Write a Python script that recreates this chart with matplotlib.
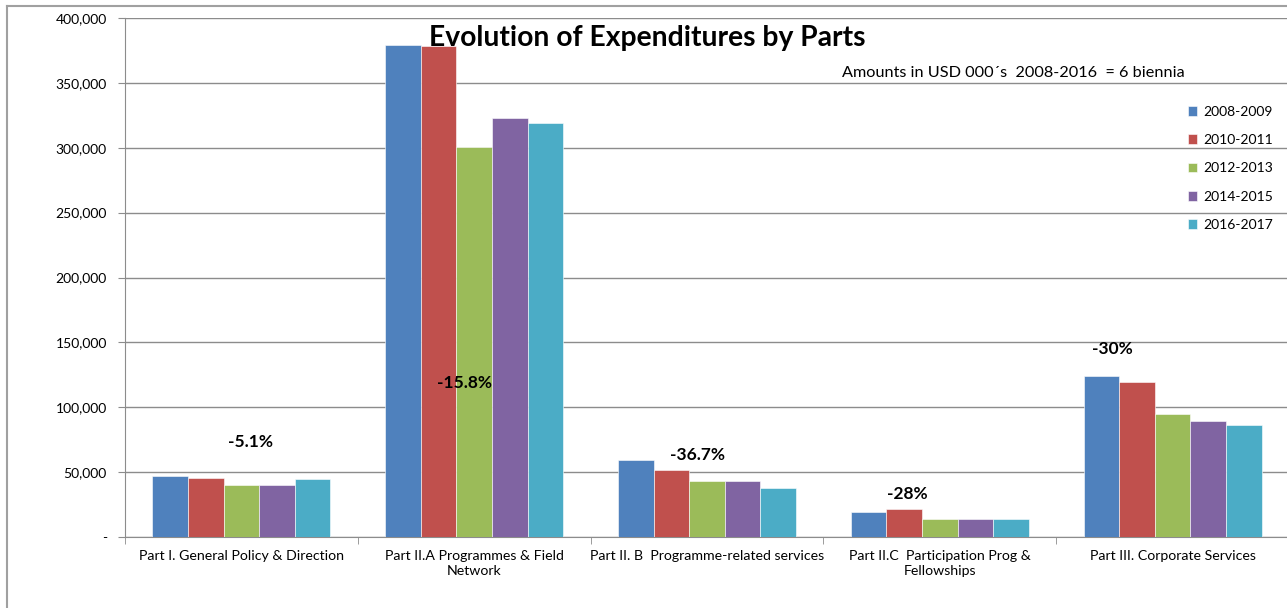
import numpy as np
import matplotlib.pyplot as plt
from matplotlib.lines import Line2D
from matplotlib.ticker import FuncFormatter

# dados (USD 000)
partes = ["Part I. General Policy & Direction",
          "Part II.A Programmes & Field\nNetwork",
          "Part II. B  Programme-related services",
          "Part II.C  Participation Prog &\nFellowships",
          "Part III. Corporate Services"]
bienios = ["2008-2009", "2010-2011", "2012-2013", "2014-2015", "2016-2017"]

b2008 = [46700, 379200, 59500, 19500, 123800]
b2010 = [45600, 378400, 51300, 21300, 119200]
b2012 = [40200, 300500, 43100, 14200, 94900]
b2014 = [40200, 322800, 43100, 14200, 89200]
b2016 = [44800, 319200, 37700, 14200, 86700]
valores = [b2008, b2010, b2012, b2014, b2016]

variacao = ["-5.1%", "-15.8%", "-36.7%", "-28%", "-30%"]
var_y = [73000, 119000, 63000, 33000, 145000]
var_dx = [0.04, -0.04, -0.04, -0.14, -0.26]

cores = ["#4F81BD", "#C0504D", "#9BBB59", "#8064A2", "#4BACC6"]
cinza = "#8c8c8c"

plt.rcParams['font.family'] = ['Lato', 'DejaVu Sans']

fig = plt.figure(figsize=(12.87, 6.08), dpi=100)
ax = fig.add_axes([125/1287, 1-537/608, 1164/1287, 519/608])

x = np.arange(len(partes))
larg = 0.153
for i, serie in enumerate(valores):
    ax.bar(x + (i-2)*larg, serie, larg, color=cores[i], label=bienios[i],
           edgecolor="white", linewidth=0.4, zorder=3)

for i, txt in enumerate(variacao):
    ax.text(x[i] + var_dx[i], var_y[i], txt, ha="center", va="center",
            fontsize=12.5, fontweight="bold", zorder=4)

ax.set_xlim(-0.5, 4.5)
ax.set_ylim(0, 400000)
ax.set_yticks(np.arange(0, 400001, 50000))
ax.yaxis.set_major_formatter(FuncFormatter(lambda v, p: "-" if v == 0 else f"{int(v):,}"))
ax.set_xticks(x)
ax.set_xticklabels(partes, fontsize=10.2, linespacing=1.35)
ax.set_xticks(np.arange(-0.5, 4.6, 1), minor=True)
ax.tick_params(axis="x", which="major", length=0, pad=9)
ax.tick_params(axis="x", which="minor", length=5, color=cinza)
ax.tick_params(axis="y", length=5, color=cinza, labelsize=10, pad=8)
ax.grid(axis="y", color=cinza, linewidth=1, zorder=0)
for s in ["top", "right"]:
    ax.spines[s].set_visible(False)
for s in ["left", "bottom"]:
    ax.spines[s].set_color(cinza)

fig.text(647/1287, 1-38/608, "Evolution of Expenditures by Parts",
         ha="center", va="center", fontsize=20.3, fontweight="bold")
fig.text(842/1287, 1-73/608, "Amounts in USD 000\u00b4s  2008-2016  = 6 biennia",
         ha="left", va="center", fontsize=11.7)

ax.legend(loc="upper left", bbox_to_anchor=(1182/1287, 1-100/608),
          bbox_transform=fig.transFigure, frameon=False, fontsize=10,
          handlelength=0.7, handleheight=0.7, handletextpad=0.4,
          labelspacing=1.18, borderaxespad=0)

# moldura externa
fig.add_artist(Line2D([7/1287, 7/1287], [0, 1-6/608], color="#a0a0a0", lw=1.5))
fig.add_artist(Line2D([7/1287, 1], [1-6/608, 1-6/608], color="#a0a0a0", lw=1.5))

fig.savefig("out.png", dpi=100)
